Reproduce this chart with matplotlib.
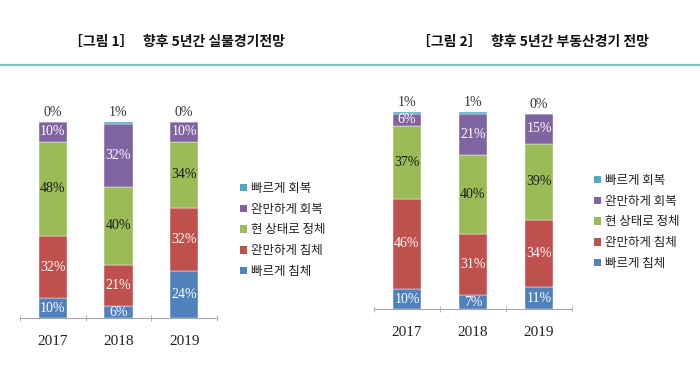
import numpy as np
from matplotlib import pyplot as plt
from matplotlib.lines import Line2D
from matplotlib.patches import Patch

plt.rcParams['font.family'] = ['Noto Sans CJK KR', 'DejaVu Sans']

years = ['2017', '2018', '2019']
series = ['빠르게 침체', '완만하게 침체', '현 상태로 정체', '완만하게 회복', '빠르게 회복']
colors = ['#4f81bd', '#c0504d', '#9bbb59', '#8064a2', '#4bacc6']
text_colors = ['white', 'white', '#1a1a1a', 'white', '#333333']

# 실물경기 (left)
real_fast_down = [10, 6, 24]
real_slow_down = [32, 21, 32]
real_stay = [48, 40, 34]
real_slow_up = [10, 32, 10]
real_fast_up = [0, 1, 0]

# 부동산경기 (right)
estate_fast_down = [10, 7, 11]
estate_slow_down = [46, 31, 34]
estate_stay = [37, 40, 39]
estate_slow_up = [6, 21, 15]
estate_fast_up = [1, 1, 0]

real = [real_fast_down, real_slow_down, real_stay, real_slow_up, real_fast_up]
estate = [estate_fast_down, estate_slow_down, estate_stay, estate_slow_up, estate_fast_up]

W, H = 700, 368
fig = plt.figure(figsize=(7, 3.68), dpi=100)


def draw(rect, data, legend_xy):
    ax = fig.add_axes(rect)
    x = np.arange(len(years))
    bottom = np.zeros(len(years))
    for i, vals in enumerate(data):
        vals = np.array(vals, dtype=float)
        ax.bar(x, vals, 0.43, bottom=bottom, color=colors[i],
               edgecolor='white', linewidth=0.3)
        for j, v in enumerate(vals):
            if i == len(data) - 1:
                ax.annotate(f'{int(v)}%', (x[j], bottom[j] + v), xytext=(0, 2),
                            textcoords='offset points', ha='center', va='bottom',
                            fontsize=10, color='#333333', family='Liberation Serif')
            else:
                ax.text(x[j], bottom[j] + v / 2, f'{int(v)}%', ha='center',
                        va='center', fontsize=10, color=text_colors[i],
                        family='Liberation Serif')
        bottom += vals
    ax.set_xlim(-0.5, 2.5)
    ax.set_ylim(0, 100)
    for s in ['top', 'right', 'left']:
        ax.spines[s].set_visible(False)
    ax.spines['bottom'].set_color('#a6a6a6')
    ax.set_yticks([])
    ax.set_xticks(x)
    ax.set_xticklabels(years, family='Liberation Serif', fontsize=11, color='#222222')
    ax.tick_params(axis='x', which='major', length=0, pad=12)
    ax.set_xticks([-0.5, 0.5, 1.5, 2.5], minor=True)
    ax.tick_params(axis='x', which='minor', length=5, direction='inout', color='#a6a6a6')
    handles = [Patch(facecolor=colors[i], label=series[i]) for i in range(len(series))][::-1]
    fig.legend(handles=handles, loc='center left',
               bbox_to_anchor=(legend_xy[0] / W, 1 - legend_xy[1] / H),
               frameon=False, fontsize=9, handlelength=0.55, handleheight=0.55,
               handletextpad=0.3, labelspacing=0.62, borderpad=0, borderaxespad=0,
               labelcolor='#222222')
    return ax


draw([20 / W, (H - 318) / H, 197 / W, 196 / H], real, (240, 230))
draw([374 / W, (H - 309) / H, 198 / W, 197 / H], estate, (594, 222))

fig.text(177 / W, 1 - 42 / H, '［그림 1］   향후 5년간 실물경기전망', ha='center', va='center',
         fontsize=10, fontweight='bold', color='#111111')
fig.text(533 / W, 1 - 42 / H, '［그림 2］   향후 5년간 부동산경기 전망', ha='center', va='center',
         fontsize=10, fontweight='bold', color='#111111')
fig.add_artist(Line2D([0, 1], [1 - 65 / H, 1 - 65 / H], color='#7fc6bb', linewidth=1.6))

fig.savefig('out.png', dpi=100)
